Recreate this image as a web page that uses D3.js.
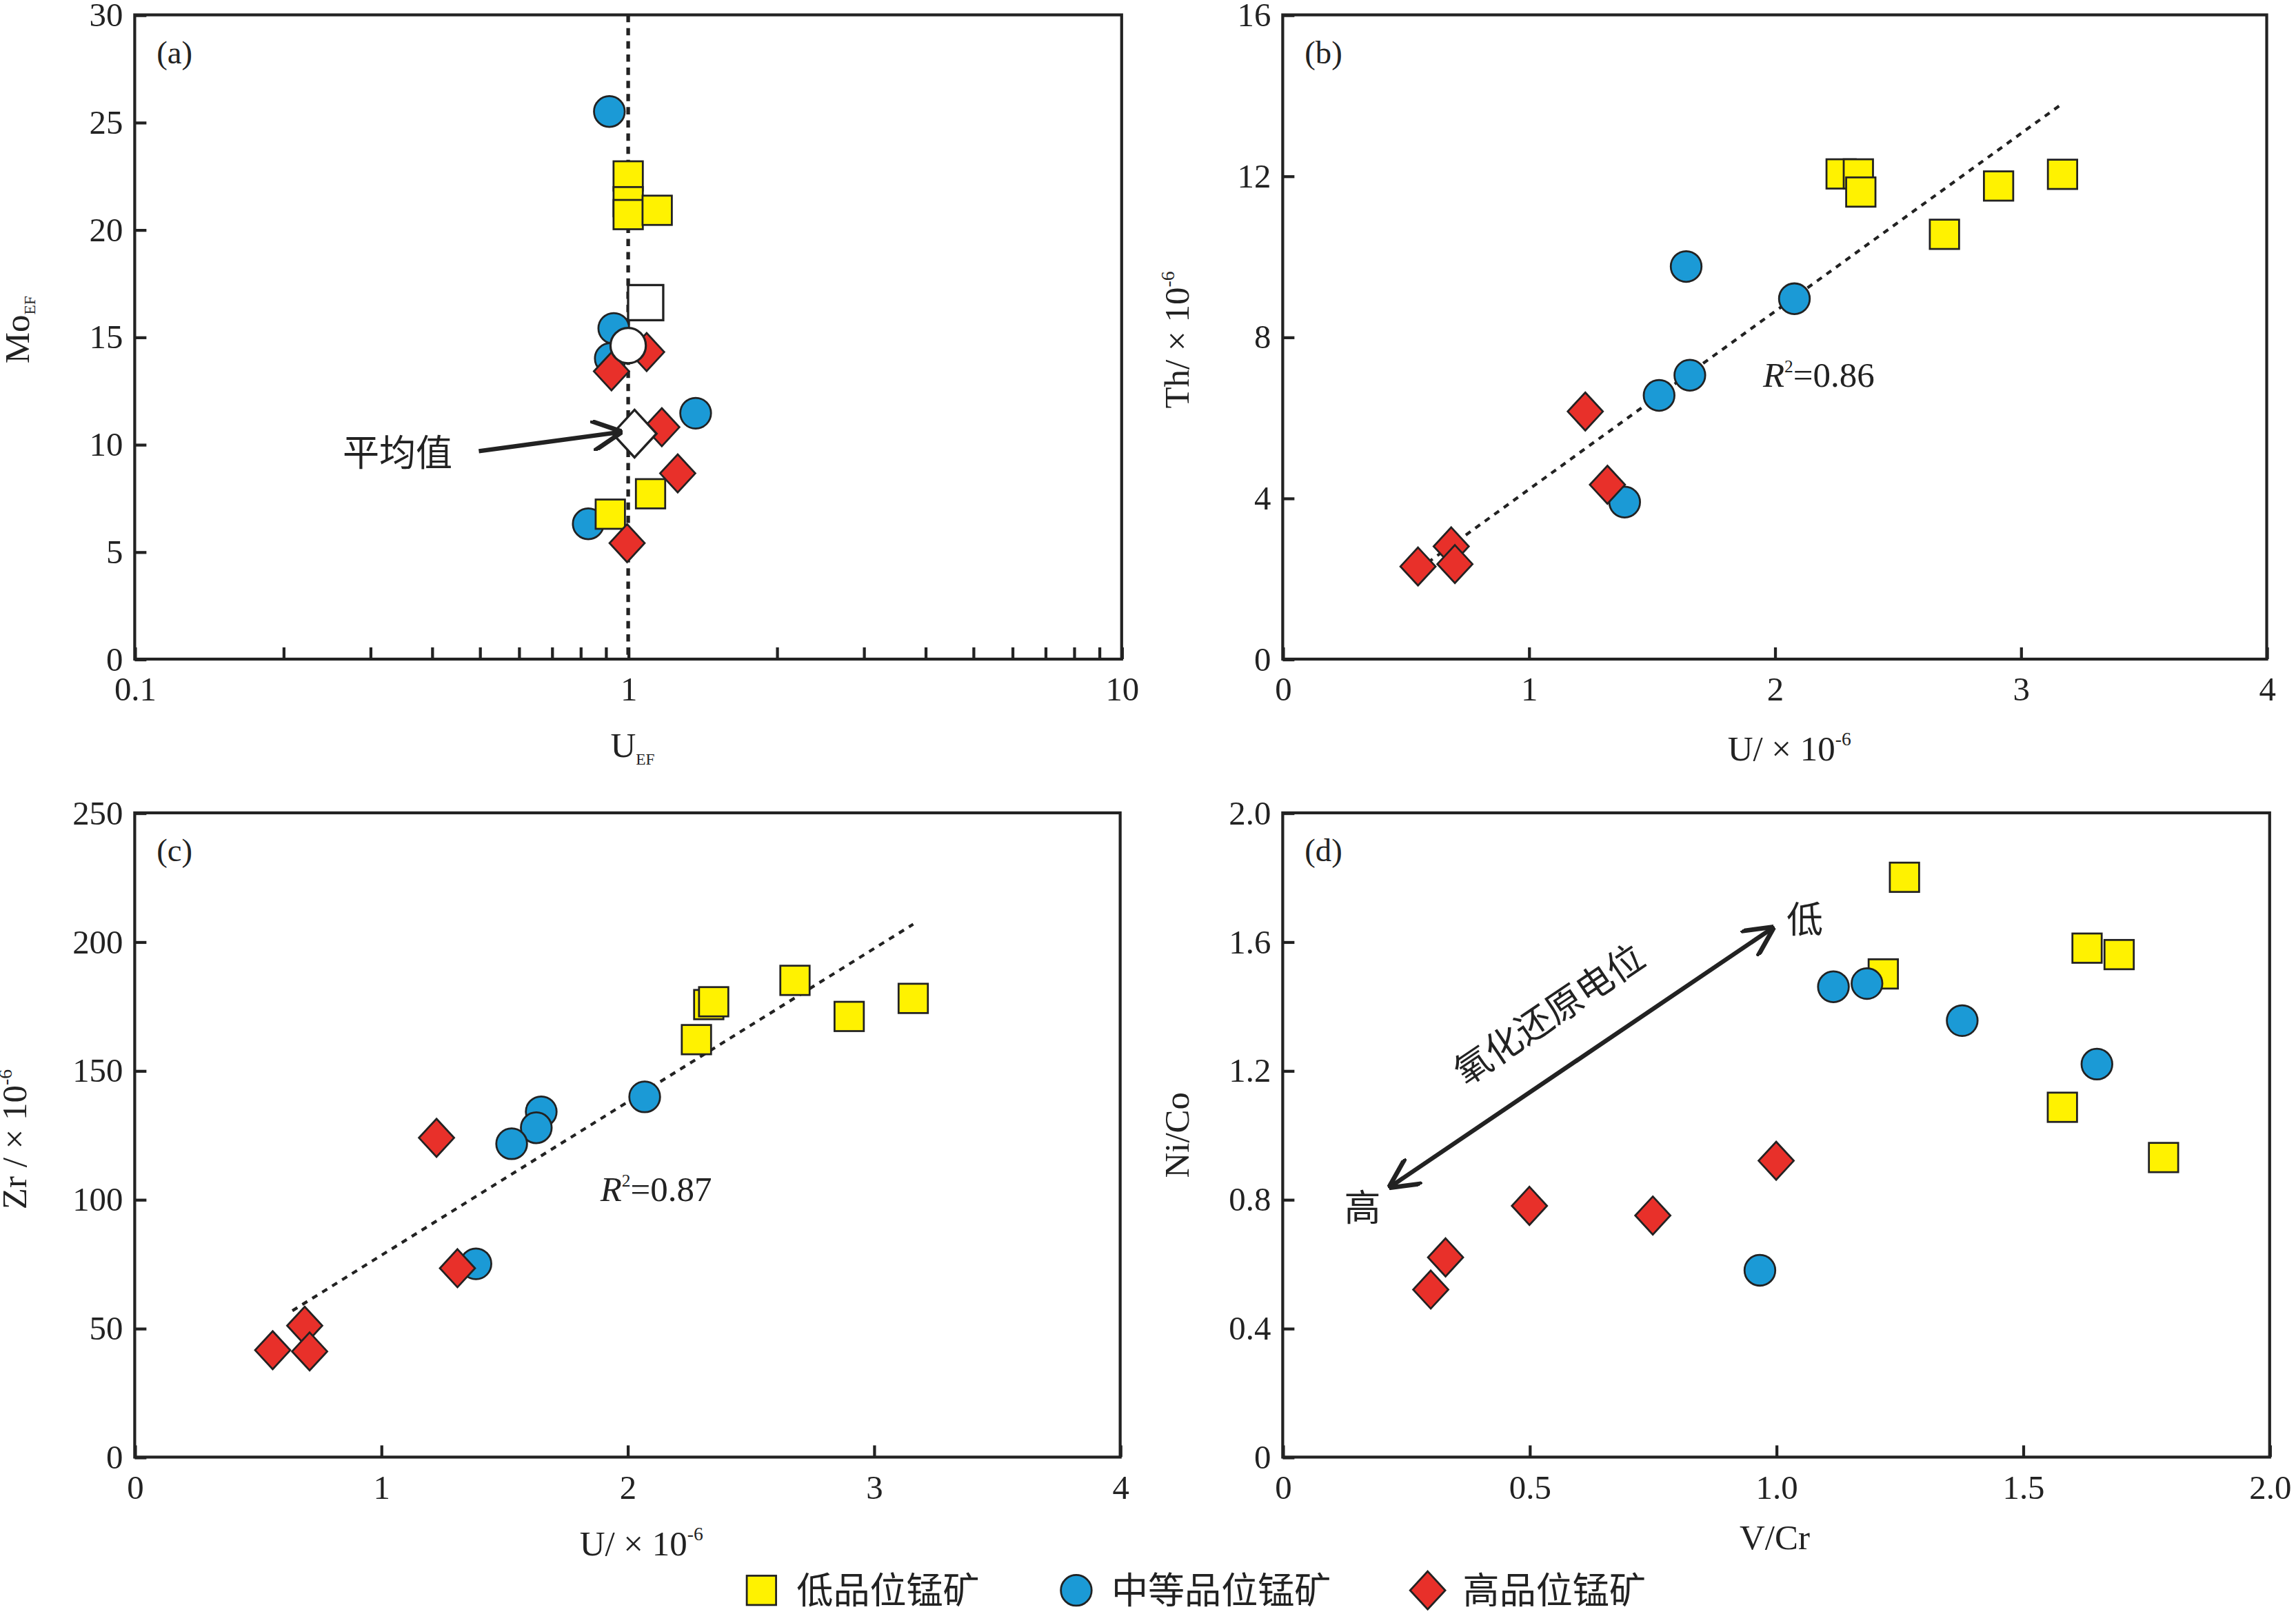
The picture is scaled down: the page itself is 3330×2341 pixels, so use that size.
<!DOCTYPE html>
<html>
<head>
<meta charset="utf-8">
<script src="https://d3js.org/d3.v7.min.js"></script>
<style>
body{margin:0;background:#fff;}
text{font-family:"Liberation Serif",serif;fill:#222;}
.cn{font-family:"Noto Sans CJK SC",sans-serif;}
</style>
</head>
<body>
<script>
// ---- data ----
// panel (a): [U_EF, Mo_EF]
var aLow  = [[1.0,22.5],[1.0,21.3],[1.0,20.7],[1.145,20.9],[1.11,7.7],[0.92,6.75]];
var aMid  = [[0.916,25.5],[0.935,15.4],[0.92,14.0],[1.37,11.45],[0.83,6.3]];
var aHigh = [[0.925,13.4],[1.09,14.3],[1.17,10.8],[1.26,8.65],[0.995,5.4]];
var aMean = {low:[1.085,16.6], mid:[1.0,14.6], high:[1.03,10.5]};
// panel (b): [U, Th]
var bLow  = [[2.27,12.05],[2.34,12.05],[2.35,11.6],[2.69,10.55],[2.91,11.75],[3.17,12.04]];
var bMid  = [[1.64,9.75],[2.08,8.95],[1.655,7.05],[1.53,6.55],[1.39,3.9]];
var bHigh = [[1.23,6.15],[1.32,4.33],[0.685,2.8],[0.70,2.36],[0.55,2.3]];
var bFit  = [[0.59,2.4],[3.17,13.8]];
// panel (c): [U, Zr]
var cLow  = [[2.33,175.6],[2.35,176.7],[2.28,162],[2.68,185],[2.9,171],[3.16,178]];
var cMid  = [[2.07,139.8],[1.65,134],[1.63,127.8],[1.53,121.6],[1.385,75]];
var cHigh = [[1.225,123.9],[1.31,73.3],[0.69,51],[0.71,41],[0.56,41.5]];
var cFit  = [[0.64,56.8],[3.16,206.8]];
// panel (d): [V/Cr, Ni/Co]
var dLow  = [[1.26,1.80],[1.217,1.50],[1.63,1.58],[1.695,1.56],[1.58,1.086],[1.785,0.93]];
var dMid  = [[1.116,1.46],[1.184,1.47],[1.377,1.355],[1.65,1.22],[0.967,0.58]];
var dHigh = [[1.0,0.92],[0.50,0.78],[0.75,0.75],[0.33,0.62],[0.30,0.52]];

var legendLabels = ["低品位锰矿","中等品位锰矿","高品位锰矿"];
var YEL="#fff200", BLU="#1b9ad6", RED="#e8302a";

var svg = d3.select("body").append("svg")
  .attr("width",3330).attr("height",2341)
  .attr("viewBox","0 0 1568 1102");

function marker(g, type, x, y, fill, s){
  s = s || 1;
  if(type=="sq") g.append("rect").attr("x",x-10*s).attr("y",y-10*s).attr("width",20*s).attr("height",20*s)
      .attr("fill",fill).attr("stroke","#222").attr("stroke-width",1.3*s);
  else if(type=="ci") g.append("circle").attr("cx",x).attr("cy",y).attr("r",10.5*s)
      .attr("fill",fill).attr("stroke","#222").attr("stroke-width",1.3*s);
  else g.append("path").attr("d","M"+x+","+(y-13*s)+"L"+(x+12*s)+","+y+"L"+x+","+(y+13*s)+"L"+(x-12*s)+","+y+"Z")
      .attr("fill",fill).attr("stroke","#222").attr("stroke-width",1.3*s);
}

function panel(o){
  var g = svg.append("g");
  var x = o.xs.range([o.x0,o.x1]), y = o.ys.range([o.y1,o.y0]);
  var xa = d3.axisBottom(x).tickSizeInner(-8).tickSizeOuter(0).tickPadding(12);
  var ya = d3.axisLeft(y).tickSizeInner(-8).tickSizeOuter(0).tickPadding(8).tickValues(o.yt).tickFormat(o.yf);
  if(o.xt) xa.tickValues(o.xt).tickFormat(o.xf);
  var gx = g.append("g").attr("transform","translate(0,"+o.y1+")").call(xa);
  var gy = g.append("g").attr("transform","translate("+o.x0+",0)").call(ya);
  [gx,gy].forEach(function(a){
    a.select(".domain").remove();
    a.selectAll("line").attr("stroke","#222").attr("stroke-width",2);
    a.selectAll("text").attr("font-size",23).attr("font-family","Liberation Serif").attr("fill","#222");
  });
  g.append("rect").attr("x",o.x0).attr("y",o.y0).attr("width",o.x1-o.x0).attr("height",o.y1-o.y0)
    .attr("fill","none").attr("stroke","#222").attr("stroke-width",2);
  g.append("text").attr("x",o.x0+15).attr("y",o.y0+33).attr("font-size",22).text(o.tag);
  return {g:g,x:x,y:y};
}

function pts(p, arr, type, fill){
  arr.forEach(function(d){ marker(p.g,type,p.x(d[0]),p.y(d[1]),fill); });
}
function fit(p, f){
  p.g.append("line").attr("x1",p.x(f[0][0])).attr("y1",p.y(f[0][1]))
    .attr("x2",p.x(f[1][0])).attr("y2",p.y(f[1][1]))
    .attr("stroke","#222").attr("stroke-width",2).attr("stroke-dasharray","4,4");
}
function unitLabel(cx, cy, rot, pre){
  var tx = svg.append("text").attr("font-size",24).attr("text-anchor","middle")
    .attr("transform","translate("+cx+","+cy+")"+(rot?" rotate(-90)":""));
  tx.append("tspan").text(pre+" × 10");
  tx.append("tspan").attr("font-size",13).attr("dy",-10).text("-6");
}

// (a)
var ticksA=[];
[0.1,1].forEach(function(b){ for(var i=1;i<10;i++) ticksA.push(b*i); }); ticksA.push(10);
var pa = panel({xs:d3.scaleLog().domain([0.1,10]), ys:d3.scaleLinear().domain([0,30]),
  x0:92,x1:766,y0:10,y1:450, xt:ticksA, xf:function(d){return [0.1,1,10].indexOf(d)>=0?(d==0.1?"0.1":d):"";},
  yt:d3.range(0,31,5), yf:d3.format("d"), tag:"(a)"});
pa.g.append("line").attr("x1",pa.x(1)).attr("x2",pa.x(1)).attr("y1",10).attr("y2",450)
  .attr("stroke","#222").attr("stroke-width",2.5).attr("stroke-dasharray","5,4");
pts(pa,aMid,"ci",BLU); pts(pa,aLow,"sq",YEL); pts(pa,aHigh,"di",RED);
marker(pa.g,"sq",pa.x(aMean.low[0]),pa.y(aMean.low[1]),"#fff",1.2);
marker(pa.g,"ci",pa.x(aMean.mid[0]),pa.y(aMean.mid[1]),"#fff",1.15);
marker(pa.g,"di",pa.x(aMean.high[0]),pa.y(aMean.high[1]),"#fff",1.25);
svg.append("defs").append("marker").attr("id","ah").attr("viewBox","0 0 10 10").attr("refX",9).attr("refY",5)
  .attr("markerWidth",7).attr("markerHeight",7).attr("orient","auto-start-reverse")
  .append("path").attr("d","M0,0L10,5L0,10").attr("fill","none").attr("stroke","#222").attr("stroke-width",1.5);
pa.g.append("line").attr("x1",327).attr("y1",308).attr("x2",423).attr("y2",295)
  .attr("stroke","#222").attr("stroke-width",3).attr("marker-end","url(#ah)");
pa.g.append("text").attr("class","cn").attr("x",234).attr("y",318).attr("font-size",25).text("平均值");
var ta = svg.append("text").attr("font-size",24).attr("text-anchor","middle").attr("transform","translate(20,225) rotate(-90)");
ta.append("tspan").text("Mo"); ta.append("tspan").attr("font-size",11).attr("dy",4).text("EF");
var tb = svg.append("text").attr("font-size",24).attr("text-anchor","middle").attr("x",432).attr("y",517);
tb.append("tspan").text("U"); tb.append("tspan").attr("font-size",11).attr("dy",5).text("EF");

// (b)
var pb = panel({xs:d3.scaleLinear().domain([0,4]), ys:d3.scaleLinear().domain([0,16]),
  x0:876,x1:1548,y0:10,y1:450, xt:[0,1,2,3,4], xf:d3.format("d"),
  yt:[0,4,8,12,16], yf:d3.format("d"), tag:"(b)"});
fit(pb,bFit);
pts(pb,bLow,"sq",YEL); pts(pb,bMid,"ci",BLU); pts(pb,bHigh,"di",RED);
var r2 = pb.g.append("text").attr("x",1204).attr("y",264).attr("font-size",24);
r2.append("tspan").attr("font-style","italic").text("R"); r2.append("tspan").attr("font-size",12).attr("dy",-10).text("2");
r2.append("tspan").attr("dy",10).text("=0.86");
unitLabel(812,232,true,"Th/");
unitLabel(1222,519,false,"U/");

// (c)
var pc = panel({xs:d3.scaleLinear().domain([0,4]), ys:d3.scaleLinear().domain([0,250]),
  x0:92,x1:765,y0:555,y1:995, xt:[0,1,2,3,4], xf:d3.format("d"),
  yt:d3.range(0,251,50), yf:d3.format("d"), tag:"(c)"});
fit(pc,cFit);
pts(pc,cLow,"sq",YEL); pts(pc,cMid,"ci",BLU); pts(pc,cHigh,"di",RED);
var r3 = pc.g.append("text").attr("x",410).attr("y",820).attr("font-size",24);
r3.append("tspan").attr("font-style","italic").text("R"); r3.append("tspan").attr("font-size",12).attr("dy",-10).text("2");
r3.append("tspan").attr("dy",10).text("=0.87");
unitLabel(18,778,true,"Zr /");
unitLabel(438,1062,false,"U/");

// (d)
var pd = panel({xs:d3.scaleLinear().domain([0,2]), ys:d3.scaleLinear().domain([0,2]),
  x0:876,x1:1550,y0:555,y1:995, xt:[0,0.5,1,1.5,2], xf:function(d){return d==0?"0":d3.format(".1f")(d);},
  yt:[0,0.4,0.8,1.2,1.6,2.0], yf:function(d){return d==0?"0":d3.format(".1f")(d);}, tag:"(d)"});
pts(pd,dLow,"sq",YEL); pts(pd,dMid,"ci",BLU); pts(pd,dHigh,"di",RED);
pd.g.append("line").attr("x1",950).attr("y1",810).attr("x2",1210).attr("y2",634)
  .attr("stroke","#222").attr("stroke-width",3).attr("marker-end","url(#ah)").attr("marker-start","url(#ah)");
pd.g.append("text").attr("class","cn").attr("font-size",25).attr("text-anchor","middle")
  .attr("transform","translate(1063,700) rotate(-34)").text("氧化还原电位");
pd.g.append("text").attr("class","cn").attr("font-size",25).attr("x",918).attr("y",834).text("高");
pd.g.append("text").attr("class","cn").attr("font-size",25).attr("x",1220).attr("y",637).text("低");
svg.append("text").attr("font-size",24).attr("text-anchor","middle").attr("transform","translate(812,775) rotate(-90)").text("Ni/Co");
svg.append("text").attr("font-size",24).attr("text-anchor","middle").attr("x",1212).attr("y",1058).text("V/Cr");

// legend
var lg = svg.append("g");
var lx=[520,735,975], types=["sq","ci","di"], cols=[YEL,BLU,RED];
legendLabels.forEach(function(l,i){
  marker(lg,types[i],lx[i],1086,cols[i]);
  lg.append("text").attr("class","cn").attr("x",lx[i]+24).attr("y",1095).attr("font-size",25).text(l);
});
</script>
</body>
</html>
